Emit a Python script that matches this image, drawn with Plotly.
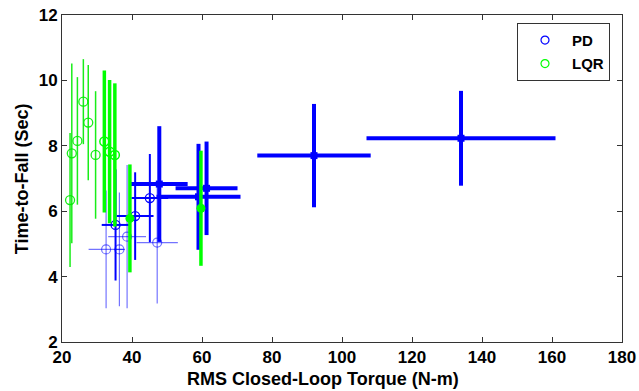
import plotly.graph_objects as go

# ---------------- data ----------------
# PD, heavy error bars
pd_thick_x = [47.8, 59.0, 61.3, 92.0, 134.0]
pd_thick_y = [6.83, 6.44, 6.70, 7.70, 8.23]
pd_thick_ex = [8.1, 12.0, 8.85, 16.2, 27.0]
pd_thick_ey = [1.77, 1.62, 1.43, 1.58, 1.45]

# PD, medium error bars
pd_med_x = [35.3, 40.9, 45.1]
pd_med_y = [5.58, 5.85, 6.40]
pd_med_ex = [3.95, 5.25, 5.25]
pd_med_ey = [1.70, 1.34, 1.35]

# PD, light error bars
pd_thin_x = [32.6, 36.4, 38.6, 47.2]
pd_thin_y = [4.83, 4.83, 5.22, 5.04]
pd_thin_ex = [5.0, 1.6, 5.4, 5.9]
pd_thin_ey = [1.80, 1.74, 2.19, 1.86]

# LQR, light error bars
lqr_thin_x = [22.3, 22.8, 24.4, 26.1, 27.5, 29.6]
lqr_thin_y = [6.34, 7.77, 8.15, 9.35, 8.71, 7.72]
lqr_thin_ey = [2.05, 2.75, 1.95, 1.30, 1.76, 1.95]

# LQR, heavy error bars (open markers)
lqr_thick_x = [32.1, 33.6, 35.1]
lqr_thick_y = [8.13, 7.82, 7.72]
lqr_thick_ey = [2.17, 2.19, 2.19]

# LQR, heavy error bars (filled markers)
lqr_fill_x = [39.4, 59.7]
lqr_fill_y = [5.78, 6.09]
lqr_fill_ey = [1.65, 1.76]

x_ticks = [20, 40, 60, 80, 100, 120, 140, 160, 180]
y_ticks = [2, 4, 6, 8, 10, 12]
x_title = "RMS Closed-Loop Torque (N-m)"
y_title = "Time-to-Fall (Sec)"

BLUE = "#0000FF"
LBLUE = "rgba(0,0,255,0.55)"
GREEN = "#00FF00"
LGREEN = "rgba(0,235,0,0.9)"
FONT = "Liberation Sans, Arial, sans-serif"

fig = go.Figure()

fig.add_trace(go.Scatter(
    x=pd_thin_x, y=pd_thin_y, mode="markers", showlegend=False,
    marker=dict(symbol="circle-open", size=9, color=LBLUE, line=dict(width=1.2, color=LBLUE)),
    error_x=dict(type="data", array=pd_thin_ex, color=LBLUE, thickness=1.2, width=0),
    error_y=dict(type="data", array=pd_thin_ey, color=LBLUE, thickness=1.2, width=0)))

fig.add_trace(go.Scatter(
    x=pd_med_x, y=pd_med_y, mode="markers", showlegend=False,
    marker=dict(symbol="circle-open", size=9, color=BLUE, line=dict(width=1.3, color=BLUE)),
    error_x=dict(type="data", array=pd_med_ex, color=BLUE, thickness=2, width=0),
    error_y=dict(type="data", array=pd_med_ey, color=BLUE, thickness=2, width=0)))

fig.add_trace(go.Scatter(
    x=pd_thick_x, y=pd_thick_y, mode="markers", showlegend=False,
    marker=dict(symbol="square", size=7, color=BLUE),
    error_x=dict(type="data", array=pd_thick_ex, color=BLUE, thickness=4, width=0),
    error_y=dict(type="data", array=pd_thick_ey, color=BLUE, thickness=4, width=0)))

fig.add_trace(go.Scatter(
    x=lqr_thin_x, y=lqr_thin_y, mode="markers", showlegend=False,
    marker=dict(symbol="circle-open", size=9, color=LGREEN, line=dict(width=1.3, color=LGREEN)),
    error_y=dict(type="data", array=lqr_thin_ey, color=LGREEN, thickness=1.5, width=0)))

fig.add_trace(go.Scatter(
    x=lqr_thick_x, y=lqr_thick_y, mode="markers", showlegend=False,
    marker=dict(symbol="circle-open", size=9, color=GREEN, line=dict(width=1.5, color=GREEN)),
    error_y=dict(type="data", array=lqr_thick_ey, color=GREEN, thickness=3.5, width=0)))

fig.add_trace(go.Scatter(
    x=lqr_fill_x, y=lqr_fill_y, mode="markers", showlegend=False,
    marker=dict(symbol="circle", size=9, color=GREEN),
    error_y=dict(type="data", array=lqr_fill_ey, color=GREEN, thickness=3.5, width=0)))

# legend entries
fig.add_trace(go.Scatter(x=[None], y=[None], mode="markers", name="PD", legendgroup="pd",
                         marker=dict(symbol="circle-open", size=8, color=BLUE, line=dict(width=1.2))))
fig.add_trace(go.Scatter(x=[None], y=[None], mode="markers", name="LQR", legendgroup="lqr",
                         marker=dict(symbol="circle-open", size=8, color=GREEN, line=dict(width=1.2))))

axis_common = dict(
    showline=True, linecolor="#333333", linewidth=1, mirror="ticks",
    ticks="inside", ticklen=5, tickcolor="#333333", showgrid=False, zeroline=False,
    automargin=False,
    tickfont=dict(family=FONT, size=17, color="black", weight="bold"),
)

title_font = dict(family=FONT, size=18, color="black", weight="bold")

fig.update_layout(
    width=639, height=391,
    paper_bgcolor="white", plot_bgcolor="white",
    margin=dict(l=62, r=17, t=15, b=49),
    font=dict(family=FONT, color="black"),
    xaxis=dict(range=[20, 180], tickvals=x_ticks, **axis_common),
    yaxis=dict(range=[2, 12], tickvals=y_ticks, **axis_common),
    legend=dict(x=0.8125, y=0.976, xanchor="left", yanchor="top",
                bgcolor="white", bordercolor="#333333", borderwidth=1,
                font=dict(family=FONT, size=15, color="black", weight="bold"),
                itemwidth=44, tracegroupgap=1, traceorder="grouped"),
    annotations=[
        dict(text=x_title, xref="paper", yref="paper", x=0.466, y=-0.112,
             xanchor="center", yanchor="middle", showarrow=False, font=title_font),
        dict(text=y_title, xref="paper", yref="paper", x=-0.072, y=0.5, textangle=-90,
             xanchor="center", yanchor="middle", showarrow=False, font=title_font),
    ],
)

fig.write_html("out.html", config={"displayModeBar": False},
               post_script="document.body.style.margin='0';document.body.style.padding='0';")
